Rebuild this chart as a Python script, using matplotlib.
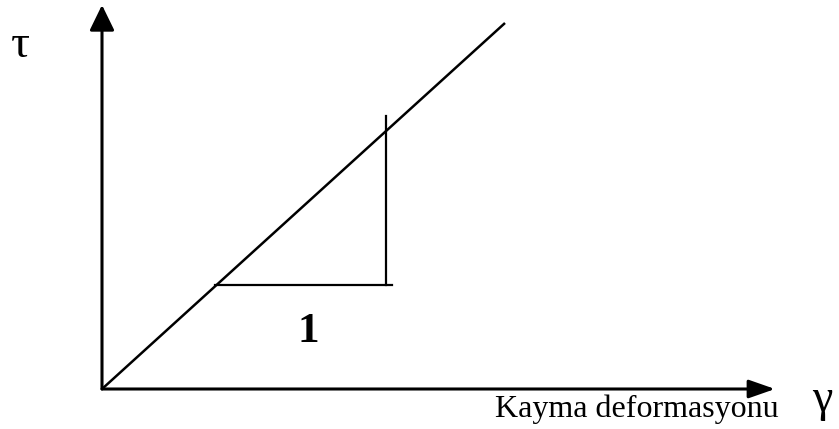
import matplotlib
matplotlib.use('Agg')
import matplotlib.pyplot as plt

# shear stress vs shear strain schematic (data units, origin at 0,0)
axis_x_end = 6.73
axis_y_end = 3.84
line_strain = [0.0, 4.03]
line_stress = [0.0, 3.66]
step_x = [1.13, 2.90]
step_y = [1.04, 1.04]
rise_x = [2.84, 2.84]
rise_y = [1.04, 2.73]
slope_label = '1'
x_label = 'Kayma deformasyonu'
x_symbol = '\u03b3'
y_symbol = '\u03c4'

plt.rcParams['font.family'] = ['Liberation Serif', 'DejaVu Serif']

fig = plt.figure(figsize=(8.39, 4.29), dpi=100)
ax = fig.add_axes([0, 0, 1, 1])
ax.set_xlim(-1.02, 7.37)
ax.set_ylim(-0.40, 3.89)
ax.axis('off')

# axes with arrow heads
ax.annotate('', xy=(0, axis_y_end), xytext=(0, 0),
            arrowprops=dict(arrowstyle='-|>,head_length=0.78,head_width=0.38',
                            mutation_scale=20, lw=2.2, color='black',
                            shrinkA=0, shrinkB=0))
ax.annotate('', xy=(axis_x_end, 0), xytext=(0, 0),
            arrowprops=dict(arrowstyle='-|>,head_length=0.8,head_width=0.28',
                            mutation_scale=20, lw=2.2, color='black',
                            shrinkA=0, shrinkB=0))

ax.plot(line_strain, line_stress, color='black', lw=1.8, solid_capstyle='butt')
ax.plot(step_x, step_y, color='black', lw=1.6)
ax.plot(rise_x, rise_y, color='black', lw=1.6)

ax.text(2.06, 0.57, slope_label, fontsize=31, fontweight='bold', ha='center', va='center')
ax.text(-0.82, 3.43, y_symbol, fontsize=34, ha='center', va='center')
ax.text(7.20, -0.11, x_symbol, fontsize=33, ha='center', va='center')
ax.text(3.93, -0.28, x_label, fontsize=23, ha='left', va='baseline')

plt.savefig('out.png', dpi=100)
plt.close()
